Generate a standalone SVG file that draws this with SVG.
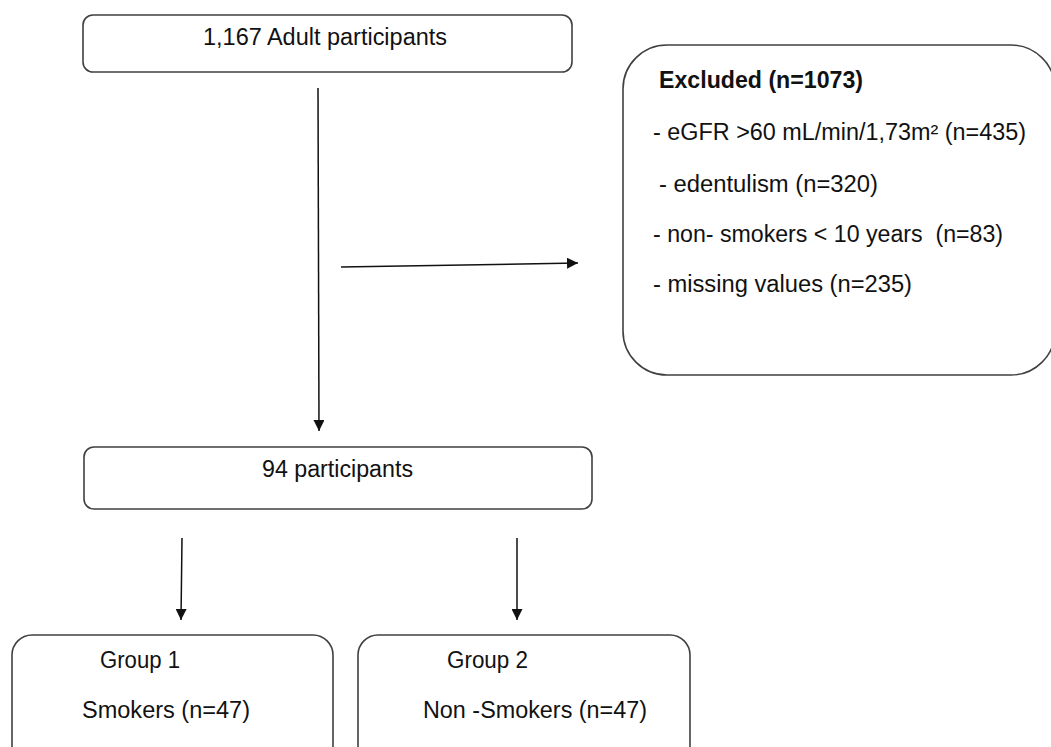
<svg xmlns="http://www.w3.org/2000/svg" width="1051" height="747" viewBox="0 0 1051 747">
<style>
.box{fill:#fff;stroke:#404040;stroke-width:1.6}
.t{font-family:"Liberation Sans",Arial,sans-serif;font-size:23px;fill:#111}
.b{font-weight:bold}
.c{stroke:#111;stroke-width:1.5;fill:none}
</style>
<defs>
<marker id="ah" viewBox="0 0 10 10" refX="10" refY="5" markerWidth="11" markerHeight="11" markerUnits="userSpaceOnUse" orient="auto">
<path d="M0,0 L10,5 L0,10 z" fill="#111"/>
</marker>
</defs>
<rect width="1051" height="747" fill="#fff"/>
<g id="connectors">
<line class="c" x1="318" y1="88" x2="319" y2="431" marker-end="url(#ah)"/>
<line class="c" x1="341" y1="267" x2="578" y2="263" marker-end="url(#ah)"/>
<line class="c" x1="182" y1="538" x2="181" y2="620" marker-end="url(#ah)"/>
<line class="c" x1="517" y1="538" x2="517" y2="620" marker-end="url(#ah)"/>
</g>
<g id="node-total">
<rect class="box" x="83" y="15" width="489" height="57" rx="10"/>
<text class="t" x="203" y="45" textLength="244" lengthAdjust="spacingAndGlyphs">1,167 Adult participants</text>
</g>
<g id="node-excluded">
<rect class="box" x="623" y="45" width="432" height="330" rx="44"/>
<text class="t b" x="659" y="88" textLength="204" lengthAdjust="spacingAndGlyphs">Excluded (n=1073)</text>
<text class="t" x="653" y="140" textLength="373" lengthAdjust="spacingAndGlyphs">- eGFR &gt;60 mL/min/1,73m² (n=435)</text>
<text class="t" x="659" y="192" textLength="219" lengthAdjust="spacingAndGlyphs">- edentulism (n=320)</text>
<text class="t" x="653" y="242" textLength="350" lengthAdjust="spacingAndGlyphs" xml:space="preserve">- non- smokers &lt; 10 years  (n=83)</text>
<text class="t" x="653" y="292" textLength="259" lengthAdjust="spacingAndGlyphs">- missing values (n=235)</text>
</g>
<g id="node-94">
<rect class="box" x="84" y="447" width="508" height="62" rx="10"/>
<text class="t" x="262" y="477" textLength="151" lengthAdjust="spacingAndGlyphs">94 participants</text>
</g>
<g id="node-group1">
<rect class="box" x="12" y="635" width="321" height="130" rx="20"/>
<text class="t" x="100" y="668" textLength="80" lengthAdjust="spacingAndGlyphs">Group 1</text>
<text class="t" x="82" y="718" textLength="168" lengthAdjust="spacingAndGlyphs">Smokers (n=47)</text>
</g>
<g id="node-group2">
<rect class="box" x="358" y="635" width="332" height="130" rx="20"/>
<text class="t" x="447" y="668" textLength="81" lengthAdjust="spacingAndGlyphs">Group 2</text>
<text class="t" x="423" y="718" textLength="224" lengthAdjust="spacingAndGlyphs">Non -Smokers (n=47)</text>
</g>
</svg>
